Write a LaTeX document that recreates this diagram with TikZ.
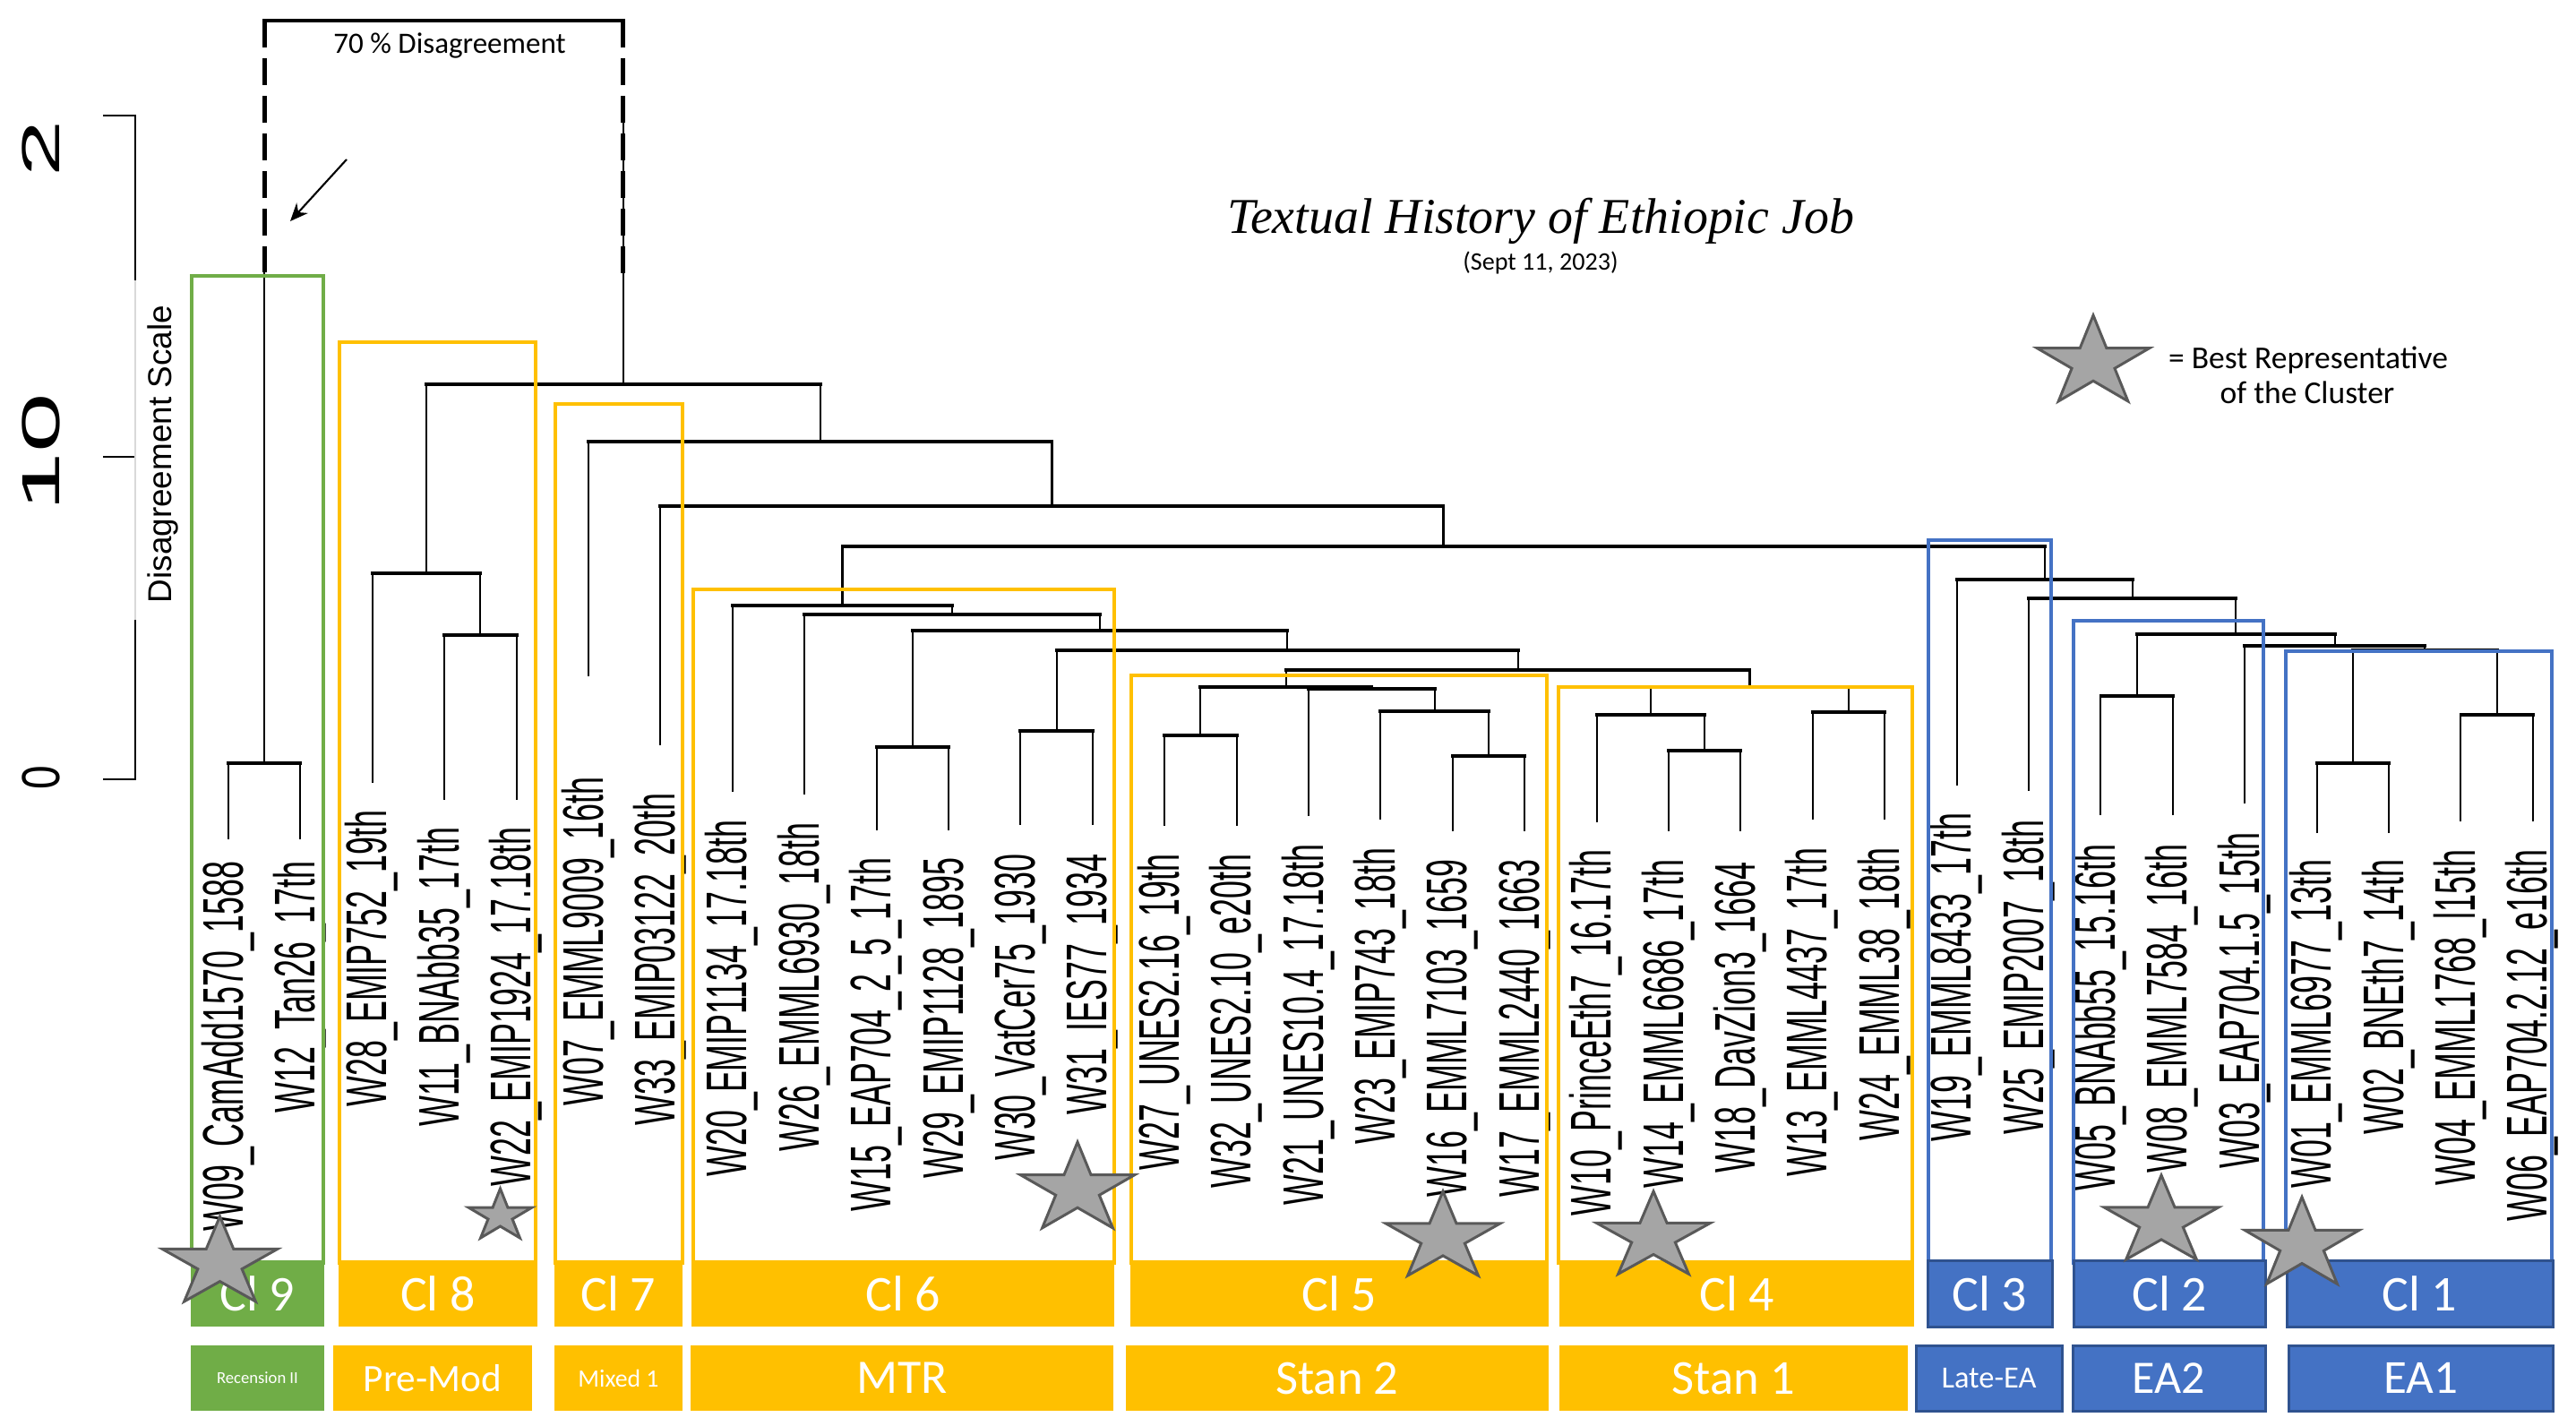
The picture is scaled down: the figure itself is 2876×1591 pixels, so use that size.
\documentclass[tikz,border=0pt]{standalone}
\usepackage{fontspec}
\setmainfont{Liberation Sans}
\newfontfamily\calib{Carlito}
\newfontfamily\serifit{Liberation Serif}
\usetikzlibrary{arrows.meta}
\definecolor{cyel}{HTML}{FFC000}
\definecolor{cgrn}{HTML}{70AD47}
\definecolor{cblu}{HTML}{4472C4}
\definecolor{cbld}{HTML}{2F528F}
\definecolor{cstar}{HTML}{A5A5A5}
\definecolor{cstard}{HTML}{595959}
\newcommand\cf[1]{\calib\fontsize{#1}{#1}\selectfont}
\newcommand\lbl[1]{\scalebox{0.56}[1]{\fontsize{18.2}{18.2}\selectfont #1}}
\newcommand\leaf[5]{\coordinate (#1) at (#2,#3);\node[leaflab] (lab#1) at ({#2+16},#4) {\lbl{#5}};}
\newcommand\mrg[3]{\draw[vl] (#2) -- (#2 |- #1);\draw[vl] (#3) -- (#3 |- #1);\draw[hl] (#2 |- #1) -- (#3 |- #1);}
\newcommand\clbar[8]{\node[barsty, #6, minimum width={(#3-#2)*0.01cm}, minimum height={(#5-#4)*0.01cm}, font=\cf{#7}] (#1) at ({(#2+#3)/2},{(#4+#5)/2}) {#8};}
\newcommand\bstar[4]{\draw[starsty] plot[samples at={0,1,...,9}, variable=\t] ({#1+(1-0.618*mod(\t,2))*#3*cos(90+36*\t)},{#2-(1-0.618*mod(\t,2))*#4*sin(90+36*\t)}) -- cycle;}
\begin{document}
\begin{tikzpicture}[x=0.01cm, y=-0.01cm,
 vl/.style={line width=0.6pt},
 hl/.style={line width=1.1pt, line cap=rect},
 boxsty/.style={line width=1.3pt},
 barsty/.style={inner sep=0pt, text=white},
 leaflab/.style={rotate=90, anchor=base east, inner sep=0pt},
 dsh/.style={line width=1.4pt, dash pattern=on 0.3cm off 0.12cm},
 starsty/.style={line width=0.85pt, draw=cstard, fill=cstar, line join=miter}]
\useasboundingbox (0,0) rectangle (2876,1591);

% axis
\coordinate (ax2) at (151,129); \coordinate (ax2l) at (115,129);
\coordinate (ax1) at (151,510); \coordinate (ax1l) at (115,510);
\coordinate (ax0) at (151,870); \coordinate (ax0l) at (115,870);
\coordinate (axg1) at (151,313); \coordinate (axg2) at (151,692);
\draw[line width=0.6pt] (ax2l) -- (ax2) -- (axg1);
\draw[line width=0.6pt] (ax1l) -- (ax1);
\draw[line width=0.6pt] (axg2) -- (ax0) -- (ax0l);
\draw[gray!30, line width=0.3pt] (axg1) -- (axg2);
\node[rotate=90, anchor=base, inner sep=0pt] (t2) at (66,166) {\scalebox{1.9}[1]{\fontsize{17}{17}\selectfont 2}};
\node[rotate=90, anchor=base, inner sep=0pt] (t10) at (66,505) {\scalebox{2}[1]{\fontsize{17}{17}\selectfont 10}};
\node[rotate=90, anchor=base, inner sep=0pt] (t0) at (66,868) {\scalebox{0.8}[1]{\fontsize{17}{17}\selectfont 0}};
\node[rotate=90, anchor=base, inner sep=0pt, font=\fontsize{10.5}{11}\selectfont] (dscale) at (191,507) {Disagreement Scale};

% leaves
\leaf{W09}{255}{937}{961}{W09\_CamAdd1570\_1588}
\leaf{W12}{335.4}{937}{961}{W12\_Tan26\_17th}
\leaf{W28}{415.8}{874}{904}{W28\_EMIP752\_19th}
\leaf{W11}{496.2}{893}{923}{W11\_BNAbb35\_17th}
\leaf{W22}{576.6}{893}{923}{W22\_EMIP1924\_17.18th}
\leaf{W07}{657}{755}{867}{W07\_EMML9009\_16th}
\leaf{W33}{737.4}{832}{885}{W33\_EMIP03122\_20th}
\leaf{W20}{817.8}{884}{915}{W20\_EMIP1134\_17.18th}
\leaf{W26}{898.2}{887}{918}{W26\_EMML6930\_18th}
\leaf{W15}{978.6}{927}{957}{W15\_EAP704\_2\_5\_17th}
\leaf{W29}{1059}{927}{957}{W29\_EMIP1128\_1895}
\leaf{W30}{1139.4}{921}{953}{W30\_VatCer75\_1930}
\leaf{W31}{1219.8}{921}{953}{W31\_IES77\_1934}
\leaf{W27}{1300.2}{922}{953}{W27\_UNES2.16\_19th}
\leaf{W32}{1380.6}{922}{953}{W32\_UNES2.10\_e20th}
\leaf{W21}{1461}{911}{942}{W21\_UNES10.4\_17.18th}
\leaf{W23}{1541.4}{915}{946}{W23\_EMIP743\_18th}
\leaf{W16}{1621.8}{928}{959}{W16\_EMML7103\_1659}
\leaf{W17}{1702.2}{928}{959}{W17\_EMML2440\_1663}
\leaf{W10}{1782.6}{918}{948}{W10\_PrinceEth7\_16.17th}
\leaf{W14}{1863}{928}{959}{W14\_EMML6686\_17th}
\leaf{W18}{1943.4}{928}{962}{W18\_DavZion3\_1664}
\leaf{W13}{2023.8}{915}{946}{W13\_EMML4437\_17th}
\leaf{W24}{2104.2}{915}{946}{W24\_EMML38\_18th}
\leaf{W19}{2184.6}{877}{907}{W19\_EMML8433\_17th}
\leaf{W25}{2265}{883}{915}{W25\_EMIP2007\_18th}
\leaf{W05}{2345.4}{910}{942}{W05\_BNAbb55\_15.16th}
\leaf{W08}{2425.8}{910}{942}{W08\_EMML7584\_16th}
\leaf{W03}{2506.2}{897}{929}{W03\_EAP704.1.5\_15th}
\leaf{W01}{2586.6}{930}{959}{W01\_EMML6977\_13th}
\leaf{W02}{2667}{930}{959}{W02\_BNEth7\_14th}
\leaf{W04}{2747.4}{917}{948}{W04\_EMML1768\_l15th}
\leaf{W06}{2827.8}{917}{948}{W06\_EAP704.2.12\_e16th}

% internal nodes
\coordinate (A) at (295.2,852);
\coordinate (B) at (536.4,709);
\coordinate (C) at (476.1,640);
\coordinate (P1) at (1018.8,834);
\coordinate (P2) at (1179.6,816);
\coordinate (Q1) at (1340.4,821);
\coordinate (Q2) at (1662,844);
\coordinate (Q3) at (1601.7,794);
\coordinate (Q4) at (1531.35,769);
\coordinate (Q5) at (1435.9,767);
\coordinate (R1) at (1903.2,838);
\coordinate (R2) at (1842.9,798);
\coordinate (R3) at (2064,795);
\coordinate (R4) at (1953.45,767);
\coordinate (S1) at (1694.7,748);
\coordinate (S2) at (1437.15,726);
\coordinate (S3) at (1228,704);
\coordinate (S4) at (1063.1,686);
\coordinate (S5) at (940.45,676);
\coordinate (T1) at (2385.6,777);
\coordinate (U1) at (2626.8,852);
\coordinate (U2) at (2787.6,798);
\coordinate (U3) at (2707.2,726);
\coordinate (T2) at (2606.7,721);
\coordinate (T3) at (2496.15,708);
\coordinate (T4) at (2380.6,668);
\coordinate (T5) at (2282.6,647);
\coordinate (V1) at (1611.5,610);
\coordinate (V2) at (1174.45,565);
\coordinate (V3) at (915.7,493);
\coordinate (V4) at (695.9,429);

\mrg{A}{W09}{W12}
\mrg{B}{W11}{W22}
\mrg{C}{W28}{B}
\mrg{P1}{W15}{W29}
\mrg{P2}{W30}{W31}
\mrg{Q1}{W27}{W32}
\mrg{Q2}{W16}{W17}
\mrg{Q3}{W23}{Q2}
\mrg{Q4}{W21}{Q3}
\mrg{Q5}{Q1}{Q4}
\mrg{R1}{W14}{W18}
\mrg{R2}{W10}{R1}
\mrg{R3}{W13}{W24}
\mrg{R4}{R2}{R3}
\mrg{S1}{Q5}{R4}
\mrg{S2}{P2}{S1}
\mrg{S3}{P1}{S2}
\mrg{S4}{W26}{S3}
\mrg{S5}{W20}{S4}
\mrg{T1}{W05}{W08}
\mrg{U1}{W01}{W02}
\mrg{U2}{W04}{W06}
\mrg{U3}{U1}{U2}
\mrg{T2}{W03}{U3}
\mrg{T3}{T1}{T2}
\mrg{T4}{W25}{T3}
\mrg{T5}{W19}{T4}
\mrg{V1}{S5}{T5}
\mrg{V2}{W33}{V1}
\mrg{V3}{W07}{V2}
\mrg{V4}{C}{V3}

% root / 70% bracket
\coordinate (Atop) at (295.2,304);
\coordinate (rt) at (695.9,126);
\draw[vl] (A) -- (Atop);
\draw[vl] (V4) -- (rt);
\coordinate (dl) at (295.2,23); \coordinate (dr) at (695.9,23);
\coordinate (dlb) at (295.2,304); \coordinate (drb) at (695.9,305);
\draw[dsh] (dl) -- (dlb);
\draw[dsh] (dr) -- (drb);
\draw[line width=1.4pt, line cap=rect] (dl) -- (dr);
\node[font=\cf{9.4}, anchor=base, inner sep=0pt] (d70) at (502,60) {70 \% Disagreement};
\coordinate (arS) at (387,178); \coordinate (arE) at (324,247);
\draw[line width=0.6pt, -{Stealth[length=0.2cm, width=0.17cm]}] (arS) -- (arE);

% title and legend
\node[font=\serifit\itshape\fontsize{15.9}{16}\selectfont, anchor=base, inner sep=0pt] (title) at (1720,260) {Textual History of Ethiopic Job};
\node[font=\cf{8}, anchor=base, inner sep=0pt] (date) at (1720,301) {(Sept 11, 2023)};
\node[font=\cf{10.1}, anchor=base, inner sep=0pt] (leg1) at (2577,411) {= Best Representative};
\node[font=\cf{10.1}, anchor=base, inner sep=0pt] (leg2) at (2576,450) {of the Cluster};

% cluster boxes
\draw[boxsty, cgrn] (214,308) rectangle (361,1410);
\draw[boxsty, cyel] (379,382) rectangle (598,1410);
\draw[boxsty, cyel] (620,451) rectangle (762,1410);
\draw[boxsty, cyel] (774,658) rectangle (1244,1410);
\draw[boxsty, cyel] (1263,754) rectangle (1727,1410);
\draw[boxsty, cyel] (1740,767) rectangle (2135,1410);
\draw[boxsty, cblu] (2153,603) rectangle (2290,1410);
\draw[boxsty, cblu] (2315,693) rectangle (2527,1410);
\draw[boxsty, cblu] (2552,727) rectangle (2849,1410);

% bars
\clbar{cl9}{213}{362}{1407}{1481}{fill=cgrn}{15.9}{Cl 9}
\clbar{cl8}{378}{600}{1407}{1481}{fill=cyel}{15.9}{Cl 8}
\clbar{cl7}{619}{762}{1407}{1481}{fill=cyel}{15.9}{Cl 7}
\clbar{cl6}{772}{1244}{1407}{1481}{fill=cyel}{15.9}{Cl 6}
\clbar{cl5}{1262}{1729}{1407}{1481}{fill=cyel}{15.9}{Cl 5}
\clbar{cl4}{1741}{2137}{1407}{1481}{fill=cyel}{15.9}{Cl 4}
\clbar{cl3}{2152}{2291}{1407}{1481}{fill=cblu, draw=cbld, line width=0.85pt}{15.9}{Cl 3}
\clbar{cl2}{2315}{2529}{1407}{1481}{fill=cblu, draw=cbld, line width=0.85pt}{15.9}{Cl 2}
\clbar{cl1}{2553}{2850}{1407}{1481}{fill=cblu, draw=cbld, line width=0.85pt}{15.9}{Cl 1}

\clbar{g9}{213}{362}{1502}{1575}{fill=cgrn}{5.3}{Recension II}
\clbar{g8}{372}{594}{1502}{1575}{fill=cyel}{12.3}{Pre-Mod}
\clbar{g7}{619}{762}{1502}{1575}{fill=cyel}{7.9}{Mixed 1}
\clbar{g6}{771}{1243}{1502}{1575}{fill=cyel}{15.3}{MTR}
\clbar{g5}{1257}{1729}{1502}{1575}{fill=cyel}{15.5}{Stan 2}
\clbar{g4}{1741}{2130}{1502}{1575}{fill=cyel}{15.5}{Stan 1}
\clbar{g3}{2139}{2302}{1502}{1575}{fill=cblu, draw=cbld, line width=0.85pt}{9.8}{Late-EA}
\clbar{g2}{2314}{2529}{1502}{1575}{fill=cblu, draw=cbld, line width=0.85pt}{14.8}{EA2}
\clbar{g1}{2555}{2850}{1502}{1575}{fill=cblu, draw=cbld, line width=0.85pt}{15.1}{EA1}

% stars
\bstar{245.5}{1410.5}{67.8}{52.5}
\bstar{558.5}{1357.4}{37.3}{30.4}
\bstar{1203}{1328}{67}{53}
\bstar{1611}{1382}{67}{52}
\bstar{1846}{1381}{67}{51}
\bstar{2413}{1364}{67}{52}
\bstar{2570}{1390}{67}{53.6}
\bstar{2337}{405}{66}{53}
\end{tikzpicture}
\end{document}
